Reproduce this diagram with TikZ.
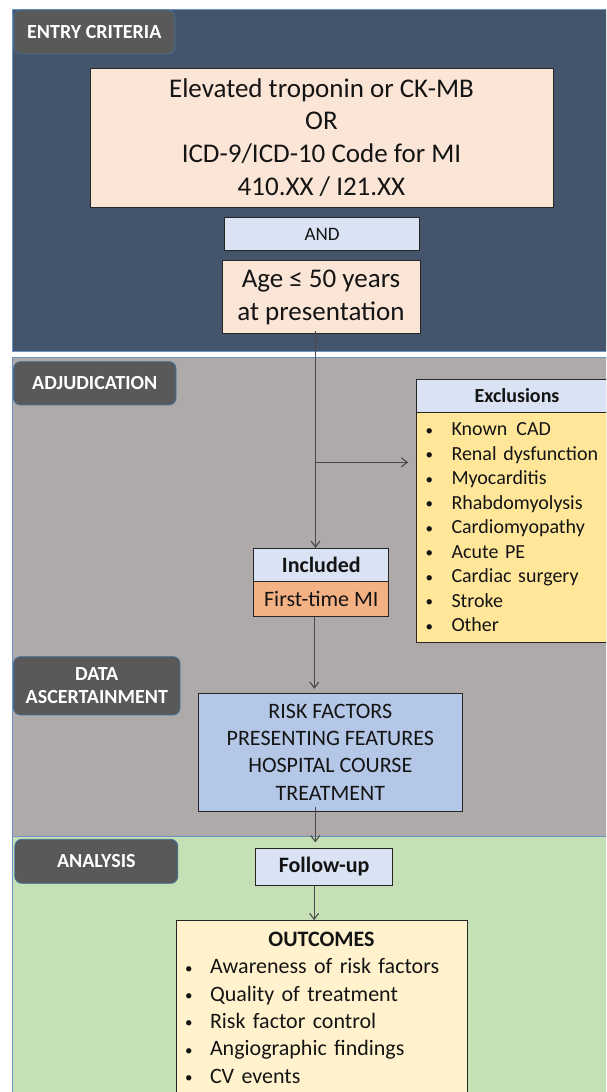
\documentclass[tikz,border=0pt]{standalone}
\usepackage{fontspec}
\setmainfont{Carlito}
\usetikzlibrary{arrows.meta}
\definecolor{topband}{HTML}{44546A}
\definecolor{grayband}{HTML}{AEAAAA}
\definecolor{greenband}{HTML}{C5E0B4}
\definecolor{bandborder}{HTML}{6A92C4}
\definecolor{labelfill}{HTML}{595959}
\definecolor{labelborder}{HTML}{41719C}
\definecolor{peach}{HTML}{FBE5D6}
\definecolor{paleblue}{HTML}{DAE3F3}
\definecolor{yellowfill}{HTML}{FFE699}
\definecolor{orangefill}{HTML}{F4B183}
\definecolor{midblue}{HTML}{B4C7E7}
\definecolor{cream}{HTML}{FFF2CC}
\definecolor{boxline}{HTML}{262626}
\definecolor{arrowc}{HTML}{4A4A4A}
\definecolor{textc}{HTML}{141414}
\newcommand{\mybul}[1]{\makebox[#1][l]{\raisebox{0.5pt}{\fontsize{15}{15}\selectfont\textbullet}}}
\begin{document}
\begin{tikzpicture}[x=1pt,y=-1pt,
  band/.style={draw=bandborder, line width=1pt},
  lab/.style={rounded corners=7pt, fill=labelfill, draw=labelborder, line width=0.8pt,
    text=white, font=\fontsize{20}{23.3}\selectfont\bfseries, align=center, inner sep=0pt},
  box/.style={draw=boxline, line width=1pt, inner sep=0pt, align=center, text=textc},
  arr/.style={draw=arrowc, line width=1.1pt, -{Straight Barb[length=6pt,width=9pt]}}
]
\useasboundingbox (0,0) rectangle (606,1092);
\begin{scope}
\clip (0,0) rectangle (606,1092);
% bands
\path[band, fill=topband] (12,9) rectangle (640,351);
\path[band, fill=grayband] (12,357) rectangle (640,836);
\path[band, fill=greenband] (12,836) rectangle (640,1120);

% section labels
\node[lab, minimum width=161.5pt, minimum height=44pt] (lentry) at (94.3,32) {ENTRY CRITERIA};
\node[lab, minimum width=162.5pt, minimum height=43.3pt] (ladj) at (94.8,383.3) {ADJUDICATION};
\node[lab, minimum width=166.5pt, minimum height=58.3pt] (ldata) at (96.8,685.8) {DATA\\ASCERTAINMENT};
\node[lab, minimum width=163pt, minimum height=44pt] (lana) at (96.3,861.3) {ANALYSIS};

% entry criteria
\node[box, fill=peach, minimum width=463pt, minimum height=139pt,
  font=\fontsize{27}{32.8}\selectfont] (crit) at (321.5,137.5)
  {Elevated troponin or CK-MB\\OR\\ICD-9/ICD-10 Code for MI\\410.XX / I21.XX};
\node[box, fill=paleblue, minimum width=195pt, minimum height=32.3pt,
  font=\fontsize{19}{22}\selectfont] (and) at (322,234) {AND};
\node[box, fill=peach, minimum width=198pt, minimum height=73.3pt,
  font=\fontsize{27}{33.3}\selectfont] (age) at (321,297.3) {Age ≤ 50 years\\at presentation};

% exclusions
\node[box, fill=paleblue, minimum width=200.6pt, minimum height=33pt,
  font=\fontsize{20}{24}\selectfont\bfseries] (exh) at (517,395.8) {Exclusions};
\node[box, fill=yellowfill, minimum width=200.6pt, minimum height=230pt,
  inner xsep=8.5pt, text width=183pt, align=left,
  font=\fontsize{20}{24.5}\selectfont] (exb) at (517,527.3)
  {\mybul{26pt}Known\hspace{0.45em}CAD\\
   \mybul{26pt}Renal dysfunction\\
   \mybul{26pt}Myocarditis\\
   \mybul{26pt}Rhabdomyolysis\\
   \mybul{26pt}Cardiomyopathy\\
   \mybul{26pt}Acute PE\\
   \mybul{26pt}Cardiac surgery\\
   \mybul{26pt}Stroke\\
   \mybul{26pt}Other};

% included
\node[box, fill=paleblue, minimum width=135.3pt, minimum height=32.7pt,
  font=\fontsize{22}{26}\selectfont\bfseries] (incl) at (321.3,564.7) {Included};
\node[box, fill=orangefill, minimum width=135.3pt, minimum height=35.3pt,
  font=\fontsize{22}{26}\selectfont] (inclb) at (321.3,598.7) {First-time MI};

% data ascertainment
\node[box, fill=midblue, minimum width=264pt, minimum height=118pt,
  font=\fontsize{22}{27.1}\selectfont] (risk) at (330.3,752.3)
  {RISK FACTORS\\PRESENTING FEATURES\\HOSPITAL COURSE\\TREATMENT};

% analysis
\node[box, fill=paleblue, minimum width=136.4pt, minimum height=36.7pt,
  font=\fontsize{22}{26}\selectfont\bfseries] (follow) at (324.1,866.7) {Follow-up};
\node[box, fill=cream, minimum width=291pt, minimum height=174pt,
  inner xsep=9pt, text width=273pt, align=left,
  font=\fontsize{22}{27.3}\selectfont] (out) at (321.5,1007.7)
  {\makebox[273pt][c]{\bfseries OUTCOMES}\\
   \mybul{25pt}Awareness of risk factors\\
   \mybul{25pt}Quality of treatment\\
   \mybul{25pt}Risk factor control\\
   \mybul{25pt}Angiographic findings\\
   \mybul{25pt}CV events};

% connectors
\draw[arr, shorten <=-3pt] ([xshift=-5.5pt]age.south) -- ([xshift=-5.5pt]age.south |- incl.north);
\coordinate (br) at ([xshift=-5.5pt]age.south |- 0,462.3);
\draw[arr, shorten >=8pt] (br) -- (br -| exb.west);
\draw[arr, shorten >=4pt] ([xshift=-7pt]inclb.south) -- ([xshift=-7pt]inclb.south |- risk.north);
\draw[arr, shorten <=-5pt, shorten >=5.5pt] ([xshift=-15pt]risk.south) -- ([xshift=-15pt]risk.south |- follow.north);
\draw[arr] ([xshift=-10pt]follow.south) -- ([xshift=-10pt]follow.south |- out.north);
\end{scope}
\end{tikzpicture}
\end{document}
